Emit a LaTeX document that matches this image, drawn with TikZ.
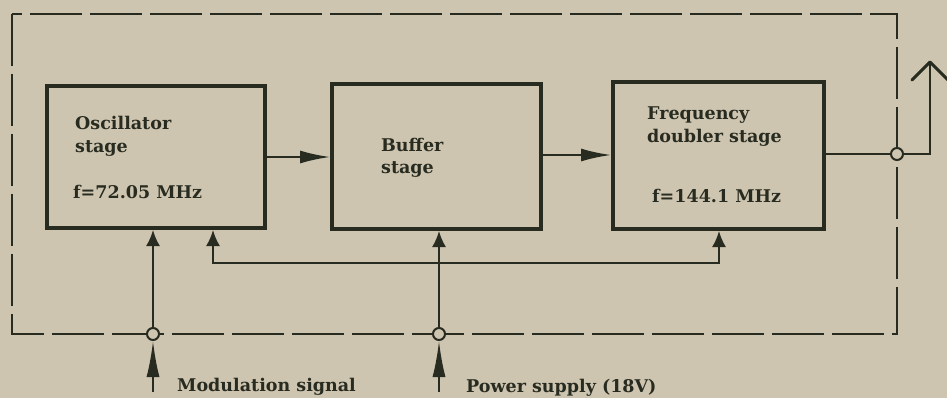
\documentclass[tikz,border=0pt]{standalone}
\usepackage{fontspec}
\setmainfont{DejaVu Serif}
\usetikzlibrary{arrows.meta,calc}
\definecolor{paper}{RGB}{206,197,177}
\definecolor{ink}{RGB}{40,43,31}
\begin{document}
\begin{tikzpicture}[x=1pt,y=-1pt,
  blk/.style={draw=ink,line width=4pt,rectangle,inner sep=0pt},
  lbl/.style={text=ink,font=\fontsize{17.5}{20}\selectfont\bfseries,anchor=base west,inner sep=0pt},
  wire/.style={draw=ink,line width=2pt},
  arrin/.style={wire,-{Latex[length=16pt,width=14pt]}},
  arrmid/.style={wire,-{Latex[length=30pt,width=13pt]}},
  arrbot/.style={wire,-{Latex[length=36pt,width=13pt]}},
  jack/.style={draw=ink,fill=paper,line width=2pt,circle,minimum size=12pt,inner sep=0pt},
  frame/.style={draw=ink,line width=2.6pt,dash pattern=on 52pt off 8pt}]
\fill[paper] (0,0) rectangle (947,398);
\useasboundingbox (0,0) rectangle (947,398);
% dashed enclosure
\draw[frame] (12,14) rectangle (897,334);
% blocks
\node[blk,minimum width=218pt,minimum height=142pt] (osc) at (156,157) {};
\node[blk,minimum width=209pt,minimum height=145pt] (buf) at (436.5,156.5) {};
\node[blk,minimum width=211pt,minimum height=147pt] (dbl) at (718.5,155.5) {};
% texts
\node[lbl] (t1) at (75,130) {Oscillator};
\node[lbl] (t2) at (75,153) {stage};
\node[lbl] (t3) at (73,198) {f=72.05 MHz};
\node[lbl] (t4) at (381,152) {Buffer};
\node[lbl] (t5) at (381,174) {stage};
\node[lbl] (t6) at (647,120) {Frequency};
\node[lbl] (t7) at (647,143) {doubler stage};
\node[lbl] (t8) at (652,203) {f=144.1 MHz};
\node[lbl] (t9) at (177,391) {Modulation signal};
\node[lbl] (t10) at (466,392) {Power supply (18V)};
% jacks
\node[jack] (modc) at (153,334) {};
\node[jack] (pwrc) at (439,334) {};
\node[jack] (outc) at (897,154) {};
% coordinates
\coordinate (modin) at (153,392);
\coordinate (pwrin) at (439,392);
\coordinate (j) at (439,263);
\coordinate (jl) at (213,263);
\coordinate (jr) at (719,263);
\coordinate (ob) at (930,154);
\coordinate (ot) at (930,62);
% signal chain
\draw[arrmid] (osc.east |- 0,157) -- (buf.west |- 0,157);
\draw[arrmid] (buf.east |- 0,155) -- (dbl.west |- 0,155);
\draw[wire] (dbl.east |- outc) -- (outc);
\draw[wire] (outc) -- (ob) -- (ot);
\draw[ink,line width=3pt,line cap=round,line join=round] (912,80) -- (ot) -- (948,80);
% modulation and supply
\draw[arrbot] (modin) -- (modc.south);
\draw[arrbot] (pwrin) -- (pwrc.south);
\draw[arrin] (modc.north) -- (osc.south -| modc);
\draw[arrin] (pwrc.north) -- (buf.south -| pwrc);
\draw[arrin] (j) -- (jl) -- (osc.south -| jl);
\draw[arrin] (j) -- (jr) -- (dbl.south -| jr);
\end{tikzpicture}
\end{document}
